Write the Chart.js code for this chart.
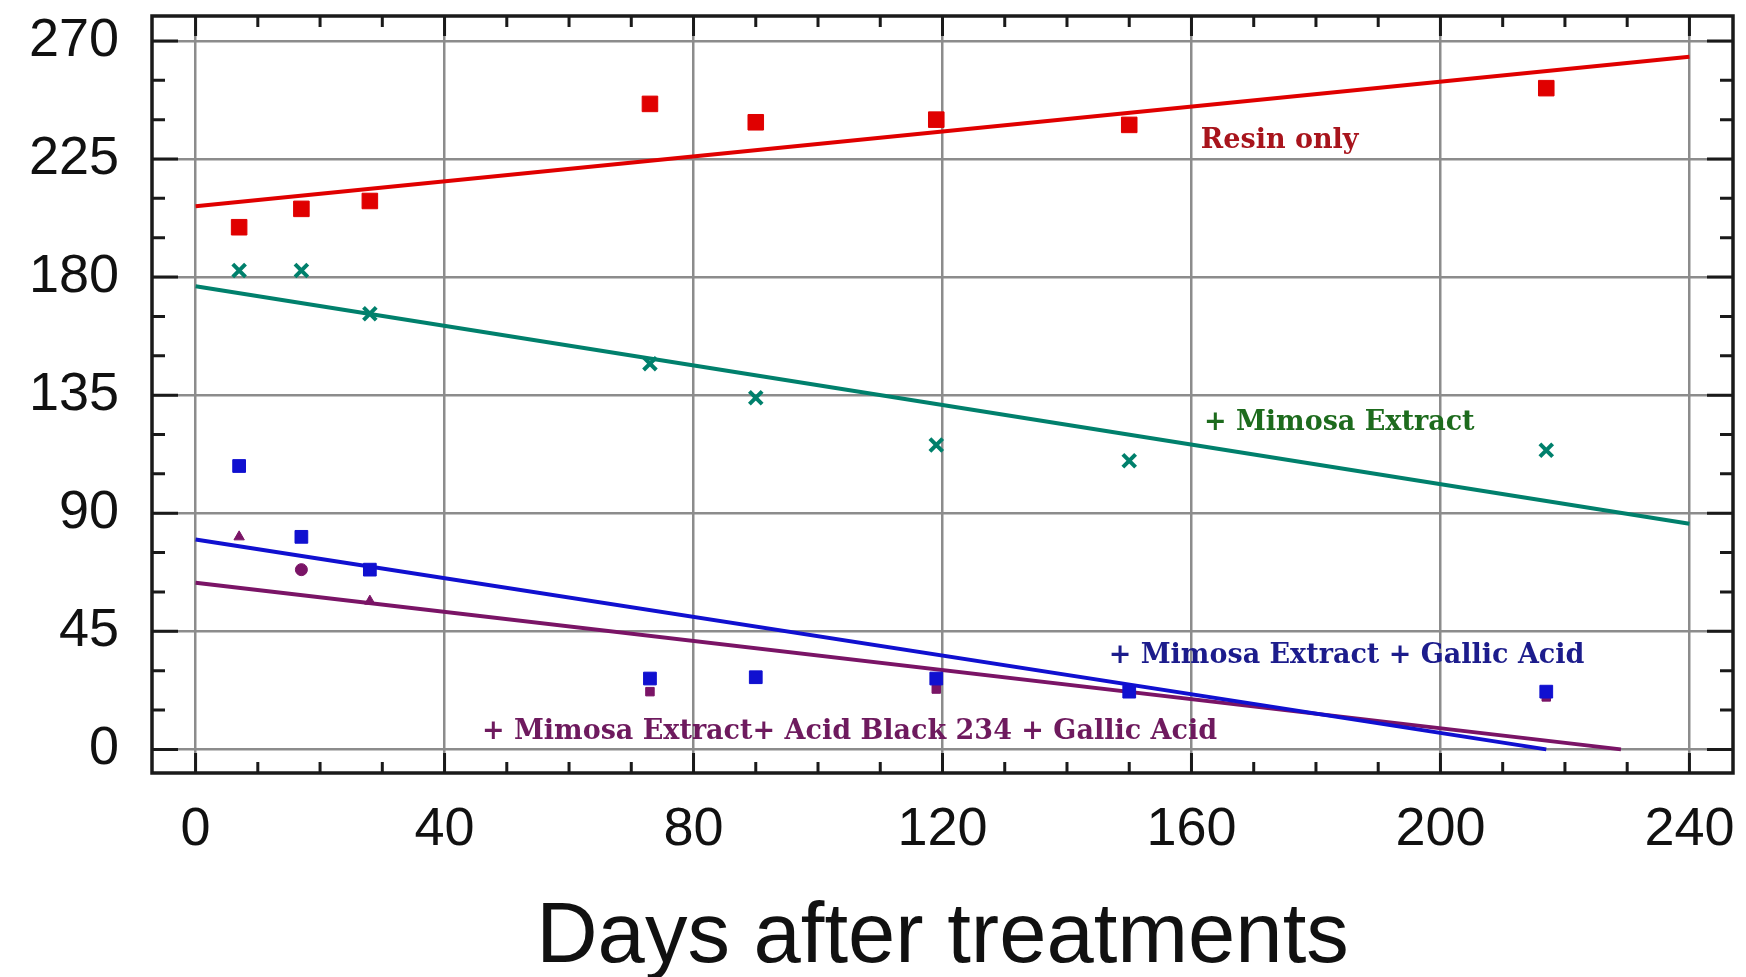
<!DOCTYPE html>
<html>
<head>
<meta charset="utf-8">
<title>Days after treatments</title>
<script src="https://cdn.jsdelivr.net/npm/chart.js@4/dist/chart.umd.min.js"></script>
<style>
  html, body { margin: 0; padding: 0; background: #fff; }
  #wrap { width: 1746px; height: 977px; }
</style>
</head>
<body>
<div id="wrap"><canvas id="chart" width="1746" height="977"></canvas></div>
<script>
// measured points (days after treatment)
const days = [7, 17, 28, 73, 90, 119, 150, 217];
const resinOnly = [199, 206, 209, 246, 239, 240, 238, 252];
const mimosa = [182.5, 182.5, 166, 147, 134, 116, 110, 114];
const mimosaGallic = [108, 81, 68.5, 27, 27.5, 27, 22, 22];
const mimosaAcidBlack = [81, 68.5, 56.5, 22, 27, 23, 22, 20];

// fitted trend lines as [start, end]
const resinFitX = [0, 240];
const resinFitY = [207, 264];
const mimosaFitX = [0, 240];
const mimosaFitY = [176.5, 86];
const gallicFitX = [0, 217];
const gallicFitY = [80, 0];
const acidBlackFitX = [0, 229];
const acidBlackFitY = [63.5, 0];

// axis ticks
const xTicks = [0, 40, 80, 120, 160, 200, 240];
const yTicks = [0, 45, 90, 135, 180, 225, 270];
const xMinorTicks = [0, 10, 20, 30, 40, 50, 60, 70, 80, 90, 100, 110, 120, 130, 140, 150, 160, 170, 180, 190, 200, 210, 220, 230, 240];
const yMinorTicks = [0, 15, 30, 45, 60, 75, 90, 105, 120, 135, 150, 165, 180, 195, 210, 225, 240, 255, 270];

// series labels placed in data space
const labelTexts = ['Resin only', '+ Mimosa Extract', '+ Mimosa Extract + Gallic Acid', '+ Mimosa Extract+ Acid Black 234 + Gallic Acid'];
const labelX = [161.5, 162, 146.7, 46];
const labelY = [232, 124.5, 35.5, 6.5];

const COLORS = {
    red: '#e00000',
    teal: '#00806c',
    blue: '#1010d0',
    purple: '#7a1466',
};
const labelColors = ['#a8141c', '#1d6b1d', '#1c1c8c', '#6e1a5e'];

const toPoints = (xs, ys) => xs.map((x, i) => ({ x: x, y: ys[i] }));

// frame with inward tick marks on all four sides
const framePlugin = {
    id: 'frame',
    afterDraw(chart) {
        const { ctx, chartArea: a, scales } = chart;
        ctx.save();
        ctx.strokeStyle = '#1a1a1a';
        ctx.lineWidth = 3;
        ctx.beginPath();
        xMinorTicks.forEach(v => {
            const px = scales.x.getPixelForValue(v);
            const len = xTicks.includes(v) ? 20 : 11;
            ctx.moveTo(px, a.bottom); ctx.lineTo(px, a.bottom - len);
            ctx.moveTo(px, a.top); ctx.lineTo(px, a.top + len);
        });
        yMinorTicks.forEach(v => {
            const py = scales.y.getPixelForValue(v);
            const len = yTicks.includes(v) ? 26 : 13;
            ctx.moveTo(a.left, py); ctx.lineTo(a.left + len, py);
            ctx.moveTo(a.right, py); ctx.lineTo(a.right - len, py);
        });
        ctx.stroke();
        ctx.lineWidth = 3.5;
        ctx.strokeRect(a.left, a.top, a.right - a.left, a.bottom - a.top);
        ctx.restore();
    }
};

const labelPlugin = {
    id: 'seriesLabels',
    afterDatasetsDraw(chart) {
        const { ctx, scales } = chart;
        ctx.save();
        ctx.font = 'bold 27px "DejaVu Serif", "Liberation Serif", serif';
        ctx.textAlign = 'left';
        ctx.textBaseline = 'middle';
        labelTexts.forEach((t, i) => {
            ctx.fillStyle = labelColors[i];
            ctx.fillText(t, scales.x.getPixelForValue(labelX[i]), scales.y.getPixelForValue(labelY[i]));
        });
        ctx.restore();
    }
};

function markerSet(label, values, color, style, radius, bw) {
    return {
        label: label,
        data: toPoints(days, values),
        pointStyle: style,
        pointRadius: radius,
        pointBackgroundColor: color,
        pointBorderColor: color,
        pointBorderWidth: bw,
        showLine: false,
    };
}

function fitSet(label, xs, ys, color) {
    return {
        label: label,
        data: toPoints(xs, ys),
        borderColor: color,
        borderWidth: 4,
        pointRadius: 0,
        showLine: true,
        fill: false,
    };
}

const FONT = '"Liberation Sans", Arial, sans-serif';

new Chart(document.getElementById('chart').getContext('2d'), {
    type: 'scatter',
    data: {
        datasets: [
            markerSet('Resin only', resinOnly, COLORS.red, 'rect', 11, 1),
            markerSet('+ Mimosa Extract', mimosa, COLORS.teal, 'crossRot', 9, 4),
            markerSet('+ Mimosa Extract + Gallic Acid', mimosaGallic, COLORS.blue, 'rect', 9, 1),
            markerSet('+ Mimosa Extract+ Acid Black 234 + Gallic Acid', mimosaAcidBlack, COLORS.purple,
                ['triangle', 'circle', 'triangle', 'rect', 'rect', 'rect', 'rect', 'rect'], 6, 1),
            fitSet('fit resin', resinFitX, resinFitY, COLORS.red),
            fitSet('fit mimosa', mimosaFitX, mimosaFitY, COLORS.teal),
            fitSet('fit gallic', gallicFitX, gallicFitY, COLORS.blue),
            fitSet('fit acid black', acidBlackFitX, acidBlackFitY, COLORS.purple),
        ]
    },
    options: {
        responsive: false,
        animation: false,
        layout: { padding: { top: 16, right: 11, left: 0, bottom: 0 } },
        plugins: {
            legend: { display: false },
            tooltip: { enabled: false },
        },
        scales: {
            x: {
                type: 'linear',
                min: -7,
                max: 247,
                afterBuildTicks: s => { s.ticks = xTicks.map(v => ({ value: v })); },
                afterFit: s => { s.height = 204; },
                grid: { color: '#8c8c8c', lineWidth: 2.5, drawTicks: true, tickLength: 25, tickColor: 'rgba(0,0,0,0)' },
                border: { display: false },
                ticks: {
                    font: { family: FONT, size: 54 },
                    color: '#111',
                    padding: 0,
                    maxRotation: 0,
                    autoSkip: false,
                },
                title: {
                    display: true,
                    text: 'Days after treatments',
                    color: '#111',
                    font: { family: FONT, size: 85, lineHeight: 0.84 },
                    padding: { top: 0, bottom: 3 },
                },
            },
            y: {
                type: 'linear',
                min: -9,
                max: 279.5,
                afterBuildTicks: s => { s.ticks = yTicks.map(v => ({ value: v })); },
                afterFit: s => { s.width = 152; },
                grid: { color: '#8c8c8c', lineWidth: 2.5, drawTicks: true, tickLength: 33, tickColor: 'rgba(0,0,0,0)' },
                border: { display: false },
                ticks: {
                    font: { family: FONT, size: 54, lineHeight: 0.3 },
                    color: '#111',
                    padding: 0,
                    autoSkip: false,
                },
            },
        },
    },
    plugins: [framePlugin, labelPlugin],
});
</script>
</body>
</html>
